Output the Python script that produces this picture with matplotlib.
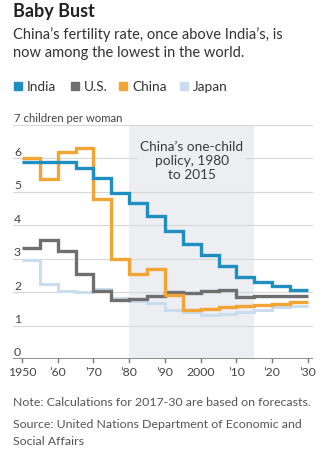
import matplotlib
matplotlib.use('Agg')
from matplotlib import pyplot as plt
import numpy as np

plt.rcParams['font.family'] = ['Lato', 'DejaVu Sans']

# five-year periods, 1950-55 ... 2025-30
edges = list(range(1950, 2031, 5))
india = [5.90, 5.90, 5.90, 5.72, 5.41, 4.97, 4.68, 4.27, 3.83, 3.45, 3.12, 2.78, 2.45, 2.30, 2.18, 2.07]
us = [3.31, 3.56, 3.22, 2.54, 2.03, 1.77, 1.80, 1.88, 2.00, 1.97, 2.03, 2.05, 1.86, 1.87, 1.88, 1.88]
china = [6.00, 5.37, 6.20, 6.30, 4.80, 3.00, 2.54, 2.69, 1.92, 1.47, 1.50, 1.55, 1.58, 1.61, 1.66, 1.70]
japan = [2.96, 2.25, 2.02, 2.00, 2.10, 1.83, 1.75, 1.68, 1.47, 1.40, 1.33, 1.34, 1.41, 1.48, 1.55, 1.60]

names = ['India', 'U.S.', 'China', 'Japan']
colors = ['#1f8ec1', '#6f6f6f', '#f0a535', '#c9ddef']

xticks = [1950, 1960, 1970, 1980, 1990, 2000, 2010, 2020, 2030]
xlabels = ['1950', '\u201960', '\u201970', '\u201980', '\u201990', '2000', '\u201910', '\u201920', '\u201930']
yticks = [0, 1, 2, 3, 4, 5, 6]

W, H = 325, 464
fig = plt.figure(figsize=(W / 100, H / 100), dpi=100)
fig.patch.set_facecolor('white')

def fx(px):
    return px / W

def fy(py):
    return 1 - py / H

ax = fig.add_axes([fx(13), fy(360), fx(313) - fx(13), fy(126) - fy(360)])
ax.set_xlim(1947.5, 2031.4)
ax.set_ylim(0, 7)
ax.axis('off')

shade = '#eceef1'
ax.axvspan(1980, 2015, ymin=0, ymax=1, color=shade, lw=0, zorder=0)
for v in yticks[1:] + [7]:
    ax.axhline(v, color='#d8d8d8', lw=0.8, zorder=1)
ax.axhline(0, color='#7a7a7a', lw=1.2, zorder=5)
for t in xticks:
    ax.plot([t, t], [0, -0.1], color='#7a7a7a', lw=1, clip_on=False, zorder=5)

ax.text(1997.5, 6.55, 'China\u2019s one-child\npolicy, 1980\nto 2015', ha='center', va='top',
        fontsize=9.8, color='#3a3a3a', linespacing=1.2, zorder=3,
        bbox=dict(facecolor=shade, edgecolor='none', pad=2))

ax.stairs(japan, edges, baseline=None, color=colors[3], lw=2.2, zorder=4)
ax.stairs(us, edges, baseline=None, color=colors[1], lw=2.4, zorder=4)
ax.stairs(china, edges, baseline=None, color=colors[2], lw=2.4, zorder=4)
ax.stairs(india, edges, baseline=None, color=colors[0], lw=2.4, zorder=4)

for t, lab in zip(xticks, xlabels):
    ax.text(t, -0.38, lab, ha='center', va='center', fontsize=8.8, color='#444444')
for v in yticks:
    fig.text(fx(14), fy(360 - v * 33.43 - 7), str(v), ha='left', va='center', fontsize=8.8, color='#444444')
fig.text(fx(14), fy(118), '7 children per woman', ha='left', va='center', fontsize=8.2, color='#444444')

# header
fig.text(fx(13), fy(12), 'Baby Bust', ha='left', va='center', fontsize=13, fontweight='bold', color='#222222')
fig.text(fx(13), fy(35), 'China\u2019s fertility rate, once above India\u2019s, is', ha='left', va='center', fontsize=10.5, color='#333333')
fig.text(fx(13), fy(53), 'now among the lowest in the world.', ha='left', va='center', fontsize=10.5, color='#333333')

# legend
leg_x = [14, 71, 119, 180]
for x0, nm, c in zip(leg_x, names, colors):
    fig.patches.append(plt.Rectangle((fx(x0), fy(91)), fx(8), 8 / H, color=c, transform=fig.transFigure, figure=fig))
    fig.text(fx(x0 + 13), fy(87), nm, ha='left', va='center', fontsize=9.8, color='#333333')

# notes
fig.text(fx(13), fy(403), 'Note: Calculations for 2017-30 are based on forecasts.', ha='left', va='center', fontsize=8.9, color='#555555')
fig.text(fx(13), fy(424), 'Source: United Nations Department of Economic and', ha='left', va='center', fontsize=8.9, color='#555555')
fig.text(fx(13), fy(442), 'Social Affairs', ha='left', va='center', fontsize=8.9, color='#555555')

fig.savefig('out.png', dpi=100)
